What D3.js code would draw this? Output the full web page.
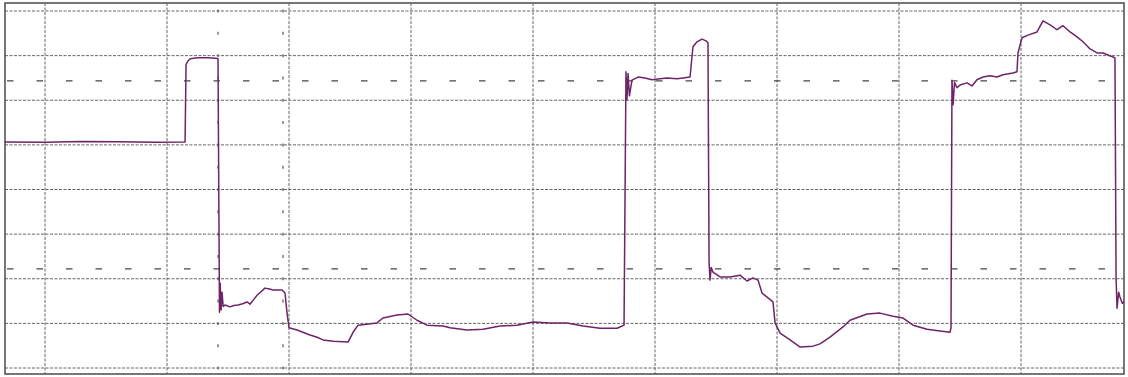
<!DOCTYPE html>
<html>
<head>
<meta charset="utf-8">
<script src="https://cdn.jsdelivr.net/npm/d3@7"></script>
<style>
  html, body { margin: 0; padding: 0; background: #fff; }
  svg { display: block; }
</style>
</head>
<body>
<svg id="scope"></svg>
<script>
// scope trace in grid divisions (x: time div, y: volt div)
var time = [
  -0.328, 0.0, 0.3, 0.6, 0.9, 1.148,
  1.156, 1.172, 1.19, 1.25, 1.33, 1.40, 1.418,
  1.430, 1.436, 1.443, 1.451, 1.46, 1.475, 1.516, 1.549, 1.582, 1.62, 1.656, 1.68, 1.738, 1.803, 1.84, 1.869, 1.943, 1.967,
  1.984, 2.000, 2.066, 2.172, 2.23, 2.279, 2.361, 2.484, 2.525, 2.566, 2.721, 2.77, 2.885, 2.975, 3.049, 3.131, 3.262, 3.32,
  3.459, 3.59, 3.73, 3.869, 4.0, 4.139, 4.279, 4.41, 4.549, 4.689, 4.746,
  4.762, 4.770, 4.779, 4.79, 4.811, 4.861, 4.918, 4.975, 5.041, 5.098, 5.18, 5.23, 5.287, 5.311, 5.344, 5.385, 5.418, 5.434,
  5.443, 5.451, 5.46, 5.475, 5.533, 5.615, 5.697, 5.754, 5.803, 5.844, 5.877, 5.926, 5.967, 5.984, 6.025, 6.107, 6.189,
  6.295, 6.352, 6.434, 6.541, 6.598, 6.738, 6.844, 6.951, 7.033, 7.115, 7.23, 7.336, 7.418, 7.426,
  7.434, 7.443, 7.455, 7.475, 7.5, 7.557, 7.598, 7.639, 7.689, 7.746, 7.803, 7.852, 7.934, 7.967,
  7.975, 8.008, 8.057, 8.131, 8.18, 8.238, 8.295, 8.344, 8.402, 8.459, 8.508, 8.566, 8.623, 8.672, 8.754, 8.770,
  8.779, 8.787, 8.80, 8.811, 8.83, 8.844
];
var volts = [
  1.065, 1.06, 1.075, 1.07, 1.06, 1.065,
  2.80, 2.88, 2.93, 2.95, 2.95, 2.94, 2.93,
  -2.75, -2.10, -2.70, -2.30, -2.62, -2.59, -2.63, -2.60, -2.59, -2.56, -2.52, -2.57, -2.37, -2.21, -2.23, -2.25, -2.25, -2.32,
  -2.77, -3.10, -3.15, -3.26, -3.31, -3.37, -3.40, -3.42, -3.20, -3.04, -2.99, -2.88, -2.81, -2.79, -2.93, -3.04, -3.06, -3.10,
  -3.15, -3.13, -3.06, -3.04, -2.97, -2.99, -2.99, -3.06, -3.11, -3.11, -3.04,
  2.64, 2.01, 2.60, 2.10, 2.45, 2.52, 2.50, 2.46, 2.48, 2.50, 2.48, 2.50, 2.52, 3.20, 3.31, 3.37, 3.33, 3.29,
  -1.63, -2.03, -1.75, -1.85, -1.96, -1.96, -1.92, -2.05, -1.98, -2.03, -2.32, -2.43, -2.52, -2.99, -3.22, -3.37, -3.53,
  -3.51, -3.46, -3.31, -3.08, -2.93, -2.79, -2.77, -2.84, -2.88, -3.04, -3.13, -3.17, -3.20, -3.10,
  2.45, 1.90, 2.40, 2.28, 2.34, 2.39, 2.32, 2.46, 2.52, 2.55, 2.52, 2.57, 2.61, 2.64,
  3.06, 3.40, 3.46, 3.53, 3.78, 3.69, 3.58, 3.67, 3.53, 3.42, 3.31, 3.15, 3.06, 3.06, 2.97, 2.95,
  -2.00, -2.66, -2.30, -2.41, -2.55, -2.52
];

var timeDivs = [0, 1, 2, 3, 4, 5, 6, 7, 8];
var voltDivs = [-4, -3, -2, -1, 0, 1, 2, 3, 4];
var timeCursors = [1.418, 1.951];
var voltCursors = [2.433, -1.78];

var width = 1128, height = 377;
var svg = d3.select("#scope").attr("width", width).attr("height", height);

var x = d3.scaleLinear().domain([-0.328, 8.844]).range([5, 1124]);
var y = d3.scaleLinear().domain([4, -4]).range([11, 368]);

var plot = { left: 5, top: 3, right: 1124, bottom: 374 };

// grid
svg.append("g").attr("class", "grid-x")
  .selectAll("line").data(timeDivs).enter().append("line")
    .attr("x1", function (d) { return x(d); })
    .attr("x2", function (d) { return x(d); })
    .attr("y1", plot.top).attr("y2", plot.bottom)
    .attr("stroke", "#666").attr("stroke-width", 1)
    .attr("stroke-dasharray", "3,1.5");

svg.append("g").attr("class", "grid-y")
  .selectAll("line").data(voltDivs).enter().append("line")
    .attr("y1", function (d) { return y(d); })
    .attr("y2", function (d) { return y(d); })
    .attr("x1", plot.left).attr("x2", plot.right)
    .attr("stroke", "#666").attr("stroke-width", 1)
    .attr("stroke-dasharray", "3,1.5");

// cursors
svg.append("g").attr("class", "cursor-v")
  .selectAll("line").data(timeCursors).enter().append("line")
    .attr("x1", function (d) { return x(d); })
    .attr("x2", function (d) { return x(d); })
    .attr("y1", y(4) - 1.5).attr("y2", plot.bottom)
    .attr("stroke", "#555").attr("stroke-width", 1.2)
    .attr("stroke-dasharray", "3," + ((y(-4) - y(4)) / 16 - 3));

svg.append("g").attr("class", "cursor-h")
  .selectAll("line").data(voltCursors).enter().append("line")
    .attr("y1", function (d) { return y(d); })
    .attr("y2", function (d) { return y(d); })
    .attr("x1", plot.left + 2).attr("x2", plot.right)
    .attr("stroke", "#444").attr("stroke-width", 1.2)
    .attr("stroke-dasharray", "6.5,23");

// frame
svg.append("rect")
  .attr("x", plot.left).attr("y", plot.top)
  .attr("width", plot.right - plot.left).attr("height", plot.bottom - plot.top)
  .attr("fill", "none").attr("stroke", "#555").attr("stroke-width", 1.6);

// trace
var points = time.map(function (t, i) { return [t, volts[i]]; });
var line = d3.line()
  .x(function (d) { return x(d[0]); })
  .y(function (d) { return y(d[1]); });

svg.append("path")
  .datum(points)
  .attr("d", line)
  .attr("fill", "none")
  .attr("stroke", "#6e2468")
  .attr("stroke-width", 1.5)
  .attr("stroke-linejoin", "round");
</script>
</body>
</html>
